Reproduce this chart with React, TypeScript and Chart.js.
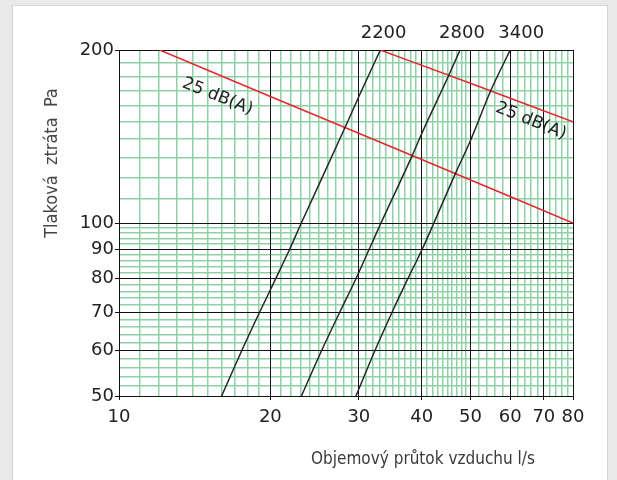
import React, { useEffect, useRef } from 'react';
import { Chart, registerables } from 'chart.js';

Chart.register(...registerables);

// ---- tick values ----
const X_MAJOR_TICKS = [10, 20, 30, 40, 50, 60, 70, 80];
const X_MINOR_TICKS = [
  11, 12, 13, 14, 15, 16, 17, 18, 19,
  21, 22, 23, 24, 25, 26, 27, 28, 29,
  31, 32, 33, 34, 35, 36, 37, 38, 39,
  41, 42, 43, 44, 45, 46, 47, 48, 49,
  52, 54, 56, 58, 62, 64, 66, 68, 72, 74, 76, 78,
];
const Y_MAJOR_TICKS = [50, 60, 70, 80, 90, 100, 200];
const Y_MINOR_TICKS = [
  52, 54, 56, 58, 62, 64, 66, 68, 72, 74, 76, 78, 82, 84, 86, 88, 92, 94, 96, 98,
  110, 120, 130, 140, 150, 160, 170, 180, 190,
];

// ---- series: fan curves (flow l/s, pressure Pa) ----
const FAN_2200_FLOW = [16.0, 17.55, 19.05, 20.5, 21.85, 23.05, 28.1, 30, 33.1];
const FAN_2200_PRESSURE = [50, 60, 70, 80, 90, 100, 146, 166, 200];

const FAN_2800_FLOW = [23.06, 25.3, 27.5, 29.6, 31.45, 33.2, 38.3, 40, 45.2, 47.7];
const FAN_2800_PRESSURE = [50, 60, 70, 80, 90, 100, 131, 143, 180, 200];

const FAN_3400_FLOW = [29.6, 32.3, 34.95, 37.55, 40.1, 42.3, 46.7, 50, 54.9, 60];
const FAN_3400_PRESSURE = [50, 60, 70, 80, 90, 100, 122, 139, 170, 200];

// ---- series: 25 dB(A) noise limits ----
const NOISE_LOW_FLOW = [12.05, 20, 40, 80];
const NOISE_LOW_PRESSURE = [200, 166, 129, 100];
const NOISE_HIGH_FLOW = [33.1, 50, 80];
const NOISE_HIGH_PRESSURE = [200, 175, 150];

// ---- texts ----
const CURVE_LABELS = ['2200', '2800', '3400'];
const CURVE_LABEL_FLOWS = [33.6, 48.1, 63.1];
const DB_LABEL = '25 dB(A)';
const DB_LABEL_FLOWS = [15.7, 66.0];
const DB_LABEL_PRESSURES = [166, 150.5];
const X_TITLE = 'Objemový průtok vzduchu l/s';
const Y_TITLE = 'Tlaková  ztráta  Pa';

const GREEN = '#8fd1a6';
const TICK_FONT = { family: '"DejaVu Sans", sans-serif', size: 18 };

const toPoints = (xs: number[], ys: number[]) => xs.map((x, i) => ({ x, y: ys[i] }));

const labelsPlugin = {
  id: 'customLabels',
  afterDraw(chart: any) {
    const { ctx, chartArea } = chart;
    const x = chart.scales.x;
    const y = chart.scales.y;
    ctx.save();
    ctx.fillStyle = '#222';
    ctx.font = '18px "DejaVu Sans", sans-serif';
    ctx.textAlign = 'center';
    ctx.textBaseline = 'middle';
    CURVE_LABELS.forEach((t, i) => {
      ctx.fillText(t, x.getPixelForValue(CURVE_LABEL_FLOWS[i]), chartArea.top - 17);
    });
    ctx.font = '17px "DejaVu Sans", sans-serif';
    DB_LABEL_FLOWS.forEach((f, i) => {
      ctx.save();
      ctx.translate(x.getPixelForValue(f), y.getPixelForValue(DB_LABEL_PRESSURES[i]));
      ctx.rotate((22 * Math.PI) / 180);
      ctx.fillText(DB_LABEL, 0, 0);
      ctx.restore();
    });
    ctx.fillStyle = '#3a3a3a';
    ctx.font = '17px "DejaVu Sans Condensed", "DejaVu Sans", sans-serif';
    ctx.fillText(X_TITLE, chartArea.left + 304, chartArea.bottom + 64);
    ctx.save();
    ctx.translate(chartArea.left - 67, chartArea.top + 113);
    ctx.rotate(-Math.PI / 2);
    ctx.fillStyle = '#444';
    ctx.font = '18px "DejaVu Sans Condensed", "DejaVu Sans", sans-serif';
    ctx.fillText(Y_TITLE, 0, 0);
    ctx.restore();
    ctx.restore();
  },
};

export default function App() {
  const canvasRef = useRef<HTMLCanvasElement | null>(null);

  useEffect(() => {
    if (!canvasRef.current) return;
    const makeLine = (data: any[], color: string) => ({
      data,
      showLine: true,
      borderColor: color,
      borderWidth: 1.5,
      pointRadius: 0,
      cubicInterpolationMode: 'monotone',
      xAxisID: 'x',
      yAxisID: 'y',
    });

    const chart = new Chart(canvasRef.current, {
      type: 'scatter',
      data: {
        datasets: [
          makeLine(toPoints(FAN_2200_FLOW, FAN_2200_PRESSURE), '#262626'),
          makeLine(toPoints(FAN_2800_FLOW, FAN_2800_PRESSURE), '#262626'),
          makeLine(toPoints(FAN_3400_FLOW, FAN_3400_PRESSURE), '#262626'),
          makeLine(toPoints(NOISE_LOW_FLOW, NOISE_LOW_PRESSURE), '#e8262d'),
          makeLine(toPoints(NOISE_HIGH_FLOW, NOISE_HIGH_PRESSURE), '#e8262d'),
        ],
      },
      options: {
        animation: false,
        responsive: false,
        devicePixelRatio: 1,
        layout: { padding: { top: 50, right: 44, bottom: 54, left: 0 } },
        plugins: { legend: { display: false }, tooltip: { enabled: false } },
        scales: {
          xMinor: {
            type: 'logarithmic',
            position: 'top',
            min: 10,
            max: 80,
            afterBuildTicks: (s: any) => {
              s.ticks = X_MINOR_TICKS.map((v) => ({ value: v }));
            },
            ticks: { display: false },
            grid: { color: GREEN, lineWidth: 1.5, drawTicks: false, z: -2 },
            border: { display: false },
          },
          yMinor: {
            type: 'logarithmic',
            position: 'right',
            min: 50,
            max: 200,
            afterBuildTicks: (s: any) => {
              s.ticks = Y_MINOR_TICKS.map((v) => ({ value: v }));
            },
            ticks: { display: false },
            grid: { color: GREEN, lineWidth: 1.5, drawTicks: false, z: -2 },
            border: { display: false },
          },
          x: {
            type: 'logarithmic',
            position: 'bottom',
            min: 10,
            max: 80,
            afterBuildTicks: (s: any) => {
              s.ticks = X_MAJOR_TICKS.map((v) => ({ value: v }));
            },
            afterFit: (s: any) => {
              s.height = 30;
            },
            ticks: {
              callback: (v: any) => String(v),
              font: TICK_FONT,
              color: '#222',
              padding: 7,
              autoSkip: false,
              maxRotation: 0,
            },
            grid: { color: '#111', lineWidth: 1, tickLength: 4, tickColor: '#111', z: -1 },
            border: { display: true, color: '#111', width: 1 },
          },
          y: {
            type: 'logarithmic',
            position: 'left',
            min: 50,
            max: 200,
            afterBuildTicks: (s: any) => {
              s.ticks = Y_MAJOR_TICKS.map((v) => ({ value: v }));
            },
            afterFit: (s: any) => {
              s.width = 119;
            },
            ticks: {
              callback: (v: any) => String(v),
              font: TICK_FONT,
              color: '#222',
              padding: 1,
              autoSkip: false,
            },
            grid: { color: '#111', lineWidth: 1, tickLength: 4, tickColor: '#111', z: -1 },
            border: { display: true, color: '#111', width: 1 },
          },
        },
      },
      plugins: [labelsPlugin],
    } as any);

    return () => chart.destroy();
  }, []);

  return (
    <div
      style={{
        position: 'fixed',
        left: 0,
        top: 0,
        width: 617,
        height: 480,
        background: '#e9e9e9',
        overflow: 'hidden',
      }}
    >
      <div
        style={{
          position: 'absolute',
          left: 12,
          top: 5,
          width: 594,
          height: 480,
          background: '#ffffff',
          border: '1px solid #d6d6d6',
        }}
      />
      <canvas
        ref={canvasRef}
        width={617}
        height={480}
        style={{ position: 'absolute', left: 0, top: 0, width: 617, height: 480 }}
      />
    </div>
  );
}
